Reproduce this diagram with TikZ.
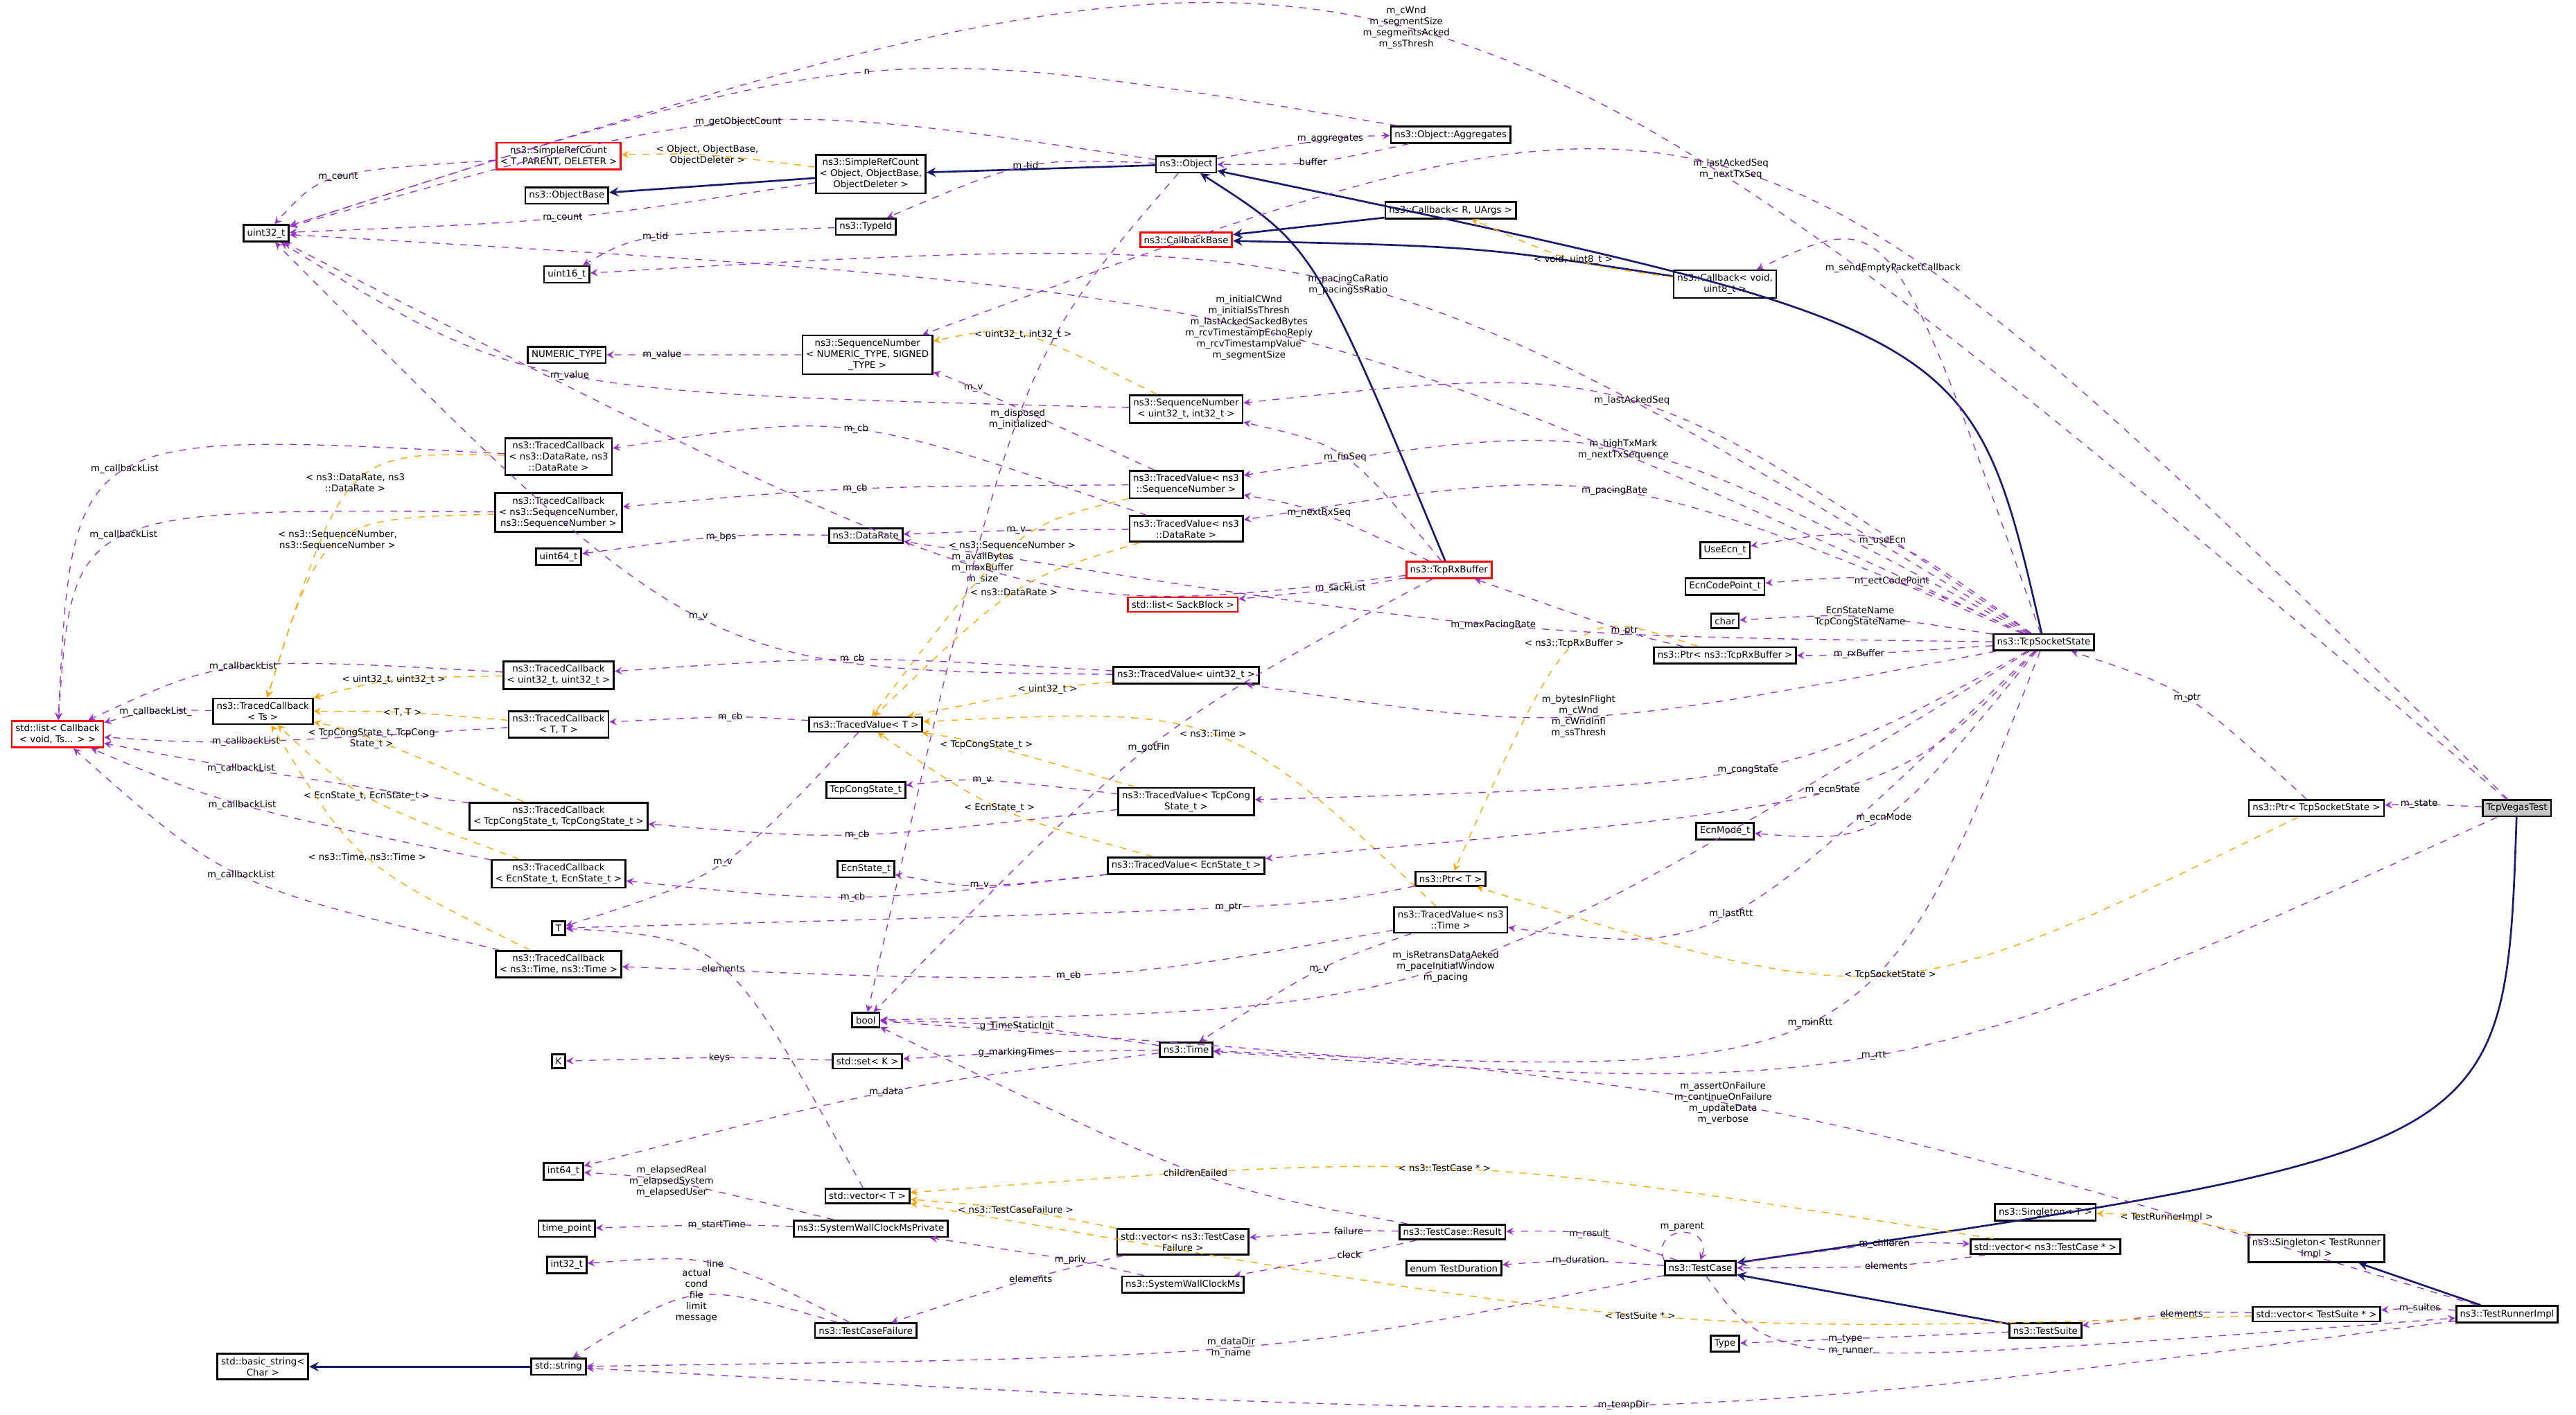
\documentclass[tikz,border=0pt]{standalone}
\usepackage{fontspec}
\setmainfont{DejaVu Sans}
\usetikzlibrary{arrows,calc}
\definecolor{mempurple}{RGB}{153,50,205}
\definecolor{tmplorange}{RGB}{255,165,0}
\definecolor{inhblue}{RGB}{25,25,112}
\newcommand{\lnk}[5][mem]{\draw[#1] (#2) .. controls ($1.33333*(#4)-0.166667*(#2)-0.166667*(#3)$) .. node[lbl]{#5} (#3);}
\begin{document}
\begin{tikzpicture}[x=0.025cm,y=-0.025cm,
  box/.style={draw,thick,fill=white,font=\fontsize{4}{4.8}\selectfont,inner sep=1.6pt,align=center},
  redbox/.style={box,draw=red},
  lbl/.style={font=\fontsize{4}{4.8}\selectfont,align=center,inner sep=0.5pt},
  mem/.style={draw=mempurple,dashed,-stealth,fill=none},
  tmpl/.style={draw=tmplorange,dashed,-stealth,fill=none},
  inh/.style={draw=inhblue,thick,-stealth}]
\useasboundingbox (0,0) rectangle (1568,861);

% classes
\node[box,fill=gray!45] (vegas) at (1532,492) {TcpVegasTest};
\node[box] (ptrtss) at (1410,492) {ns3::Ptr< TcpSocketState >};
\node[box] (tss) at (1244,391) {ns3::TcpSocketState};
\node[box] (runner) at (1526,800) {ns3::TestRunnerImpl};
\node[box] (singtr) at (1410,760) {ns3::Singleton< TestRunner\\Impl >};
\node[box] (singt) at (1245,738) {ns3::Singleton< T >};
\node[box] (vecsuite) at (1410,800) {std::vector< TestSuite * >};
\node[box] (suite) at (1245,810) {ns3::TestSuite};
\node[box] (tcase) at (1035,772) {ns3::TestCase};
\node[box] (vectc) at (1245,759) {std::vector< ns3::TestCase * >};
\node[box] (type) at (1050,818) {Type};
\node[box] (tdur) at (885,772) {enum TestDuration};
\node[box] (result) at (884,750) {ns3::TestCase::Result};
\node[box] (vecfail) at (720,756) {std::vector< ns3::TestCase\\Failure >};
\node[box] (swcms) at (720,782) {ns3::SystemWallClockMs};
\node[box] (swcpriv) at (530,748) {ns3::SystemWallClockMsPrivate};
\node[box] (vect) at (528,728) {std::vector< T >};
\node[box] (failure) at (527,810) {ns3::TestCaseFailure};
\node[box] (str) at (340,832) {std::string};
\node[box] (bstr) at (160,832) {std::basic\_string<\\Char >};
\node[box] (i32) at (345,770) {int32\_t};
\node[box] (tpoint) at (345,748) {time\_point};
\node[box] (i64) at (343,713) {int64\_t};
\node[box] (K) at (340,646) {K};
\node[box] (setk) at (528,646) {std::set< K >};
\node[box] (bool) at (527,621) {bool};
\node[box] (time) at (722,639) {ns3::Time};
\node[box] (tvtime) at (883,560) {ns3::TracedValue< ns3\\::Time >};
\node[box] (ptrt) at (883,535) {ns3::Ptr< T >};
\node[box] (ecnmode) at (1050,506) {EcnMode\_t};
\node[box] (ecnst) at (527,529) {EcnState\_t};
\node[box] (tvecn) at (722,527) {ns3::TracedValue< EcnState\_t >};
\node[box] (congst) at (527,481) {TcpCongState\_t};
\node[box] (tvcong) at (722,488) {ns3::TracedValue< TcpCong\\State\_t >};
\node[box] (tvt) at (527,441) {ns3::TracedValue< T >};
\node[box] (tvu32) at (722,411) {ns3::TracedValue< uint32\_t >};
\node[box] (T) at (340,565) {T};
\node[box] (tctime) at (340,587) {ns3::TracedCallback\\< ns3::Time, ns3::Time >};
\node[box] (tcecn) at (340,532) {ns3::TracedCallback\\< EcnState\_t, EcnState\_t >};
\node[box] (tccong) at (340,497) {ns3::TracedCallback\\< TcpCongState\_t, TcpCongState\_t >};
\node[box] (tctt) at (340,441) {ns3::TracedCallback\\< T, T >};
\node[box] (tcu32) at (340,411) {ns3::TracedCallback\\< uint32\_t, uint32\_t >};
\node[box] (tcts) at (160,433) {ns3::TracedCallback\\< Ts >};
\node[redbox] (cblist) at (35,447) {std::list< Callback\\< void, Ts... > >};
\node[box] (tcseq) at (340,312) {ns3::TracedCallback\\< ns3::SequenceNumber,\\ns3::SequenceNumber >};
\node[box] (tcrate) at (340,278) {ns3::TracedCallback\\< ns3::DataRate, ns3\\::DataRate >};
\node[box] (u64) at (340,339) {uint64\_t};
\node[box] (rate) at (527,326) {ns3::DataRate};
\node[box] (tvseq) at (722,295) {ns3::TracedValue< ns3\\::SequenceNumber >};
\node[box] (tvrate) at (722,322) {ns3::TracedValue< ns3\\::DataRate >};
\node[box] (seq32) at (722,249) {ns3::SequenceNumber\\< uint32\_t, int32\_t >};
\node[box] (seqnt) at (528,216) {ns3::SequenceNumber\\< NUMERIC\_TYPE, SIGNED\\\_TYPE >};
\node[box] (numt) at (345,216) {NUMERIC\_TYPE};
\node[box] (u16) at (345,167) {uint16\_t};
\node[box] (u32) at (162,142) {uint32\_t};
\node[box] (typeid) at (527,138) {ns3::TypeId};
\node[box] (objbase) at (345,119) {ns3::ObjectBase};
\node[redbox] (srct) at (340,95) {ns3::SimpleRefCount\\< T, PARENT, DELETER >};
\node[box] (srcobj) at (530,106) {ns3::SimpleRefCount\\< Object, ObjectBase,\\ObjectDeleter >};
\node[box] (object) at (722,100) {ns3::Object};
\node[box] (aggr) at (883,82) {ns3::Object::Aggregates};
\node[redbox] (cbbase) at (722,146) {ns3::CallbackBase};
\node[box] (cbr) at (883,128) {ns3::Callback< R, UArgs >};
\node[box] (cbvoid) at (1050,173) {ns3::Callback< void,\\uint8\_t >};
\node[redbox] (rxbuf) at (882,347) {ns3::TcpRxBuffer};
\node[redbox] (sack) at (720,368) {std::list< SackBlock >};
\node[box] (useecn) at (1050,335) {UseEcn\_t};
\node[box] (ecncp) at (1050,357) {EcnCodePoint\_t};
\node[box] (char) at (1050,378) {char};
\node[box] (ptrrx) at (1050,399) {ns3::Ptr< ns3::TcpRxBuffer >};

% inheritance
\draw[inh] (vegas) .. controls (1525,700) .. (tcase);
\draw[inh] (runner) -- (singtr);
\draw[inh] (suite) -- (tcase);
\draw[inh] (tss) .. controls (1200,200) .. (object);
\draw[inh] (rxbuf) .. controls (800,150) .. (object);
\draw[inh] (cbvoid) .. controls (900,150) .. (cbbase);
\draw[inh] (cbr) -- (cbbase);
\draw[inh] (object) -- (srcobj);
\draw[inh] (srcobj) -- (objbase);
\draw[inh] (str) -- (bstr);

% members of TcpVegasTest and the test classes
\lnk{vegas}{u32}{855,18}{m\_cWnd\\m\_segmentSize\\m\_segmentsAcked\\m\_ssThresh}
\lnk{vegas}{seqnt}{1050,105}{m\_lastAckedSeq\\m\_nextTxSeq}
\lnk{vegas}{time}{1140,642}{m\_rtt}
\lnk{vegas}{ptrtss}{1470,490}{m\_state}
\lnk{runner}{bool}{1050,672}{m\_assertOnFailure\\m\_continueOnFailure\\m\_updateData\\m\_verbose}
\lnk{runner}{vecsuite}{1472,797}{m\_suites}
\lnk{runner}{str}{990,855}{m\_tempDir}
\lnk{tcase}{runner}{1130,822}{m\_runner}
\lnk[tmpl]{singtr}{singt}{1320,742}{< TestRunnerImpl >}
\lnk{vecsuite}{suite}{1330,800}{elements}
\lnk[tmpl]{vecsuite}{vect}{1000,800}{< TestSuite * >}
\lnk{suite}{type}{1125,815}{m\_type}
\draw[mem] (tcase.north west) .. controls +(-8,-22) and +(8,-22) .. node[lbl,above]{m\_parent} (tcase.north);
\lnk{tcase}{vectc}{1150,758}{m\_children}
\lnk{vectc}{tcase}{1150,770}{elements}
\lnk[tmpl]{vectc}{vect}{880,712}{< ns3::TestCase * >}
\lnk{tcase}{result}{965,752}{m\_result}
\lnk{tcase}{tdur}{960,768}{m\_duration}
\lnk{tcase}{str}{750,820}{m\_dataDir\\m\_name}
\lnk{result}{vecfail}{820,750}{failure}
\lnk{result}{swcms}{820,764}{clock}
\lnk{result}{bool}{730,714}{childrenFailed}
\lnk{vecfail}{failure}{630,778}{elements}
\lnk[tmpl]{vecfail}{vect}{620,737}{< ns3::TestCaseFailure >}
\lnk{swcms}{swcpriv}{650,767}{m\_priv}
\lnk{swcpriv}{i64}{410,720}{m\_elapsedReal\\m\_elapsedSystem\\m\_elapsedUser}
\lnk{swcpriv}{tpoint}{440,746}{m\_startTime}
\lnk{failure}{i32}{435,770}{line}
\lnk{failure}{str}{425,790}{actual\\cond\\file\\limit\\message}
\lnk{vect}{T}{440,590}{elements}
\lnk{time}{i64}{540,665}{m\_data}
\lnk{time}{setk}{618,641}{g\_markingTimes}
\lnk{time}{bool}{620,625}{g\_TimeStaticInit}
\lnk{setk}{K}{440,644}{keys}

% members of TcpSocketState and friends
\lnk{tss}{time}{1100,622}{m\_minRtt}
\lnk{tss}{tvtime}{1050,555}{m\_lastRtt}
\lnk{tvtime}{time}{805,590}{m\_v}
\lnk{tvtime}{tctime}{650,593}{m\_cb}
\lnk[tmpl]{tvtime}{tvt}{735,448}{< ns3::Time >}
\lnk{tss}{bool}{880,588}{m\_isRetransDataAcked\\m\_paceInitialWindow\\m\_pacing}
\lnk{rxbuf}{bool}{700,455}{m\_gotFin}
\lnk[tmpl]{ptrtss}{ptrt}{1150,592}{< TcpSocketState >}
\lnk[tmpl]{ptrrx}{ptrt}{960,393}{< ns3::TcpRxBuffer >}
\lnk{ptrtss}{tss}{1330,425}{m\_ptr}
\lnk{ptrrx}{rxbuf}{990,384}{m\_ptr}
\lnk{ptrt}{T}{750,552}{m\_ptr}
\lnk{tss}{ecnmode}{1145,497}{m\_ecnMode}
\lnk{tss}{tvecn}{1110,481}{m\_ecnState}
\lnk{tss}{tvcong}{1060,468}{m\_congState}
\lnk{tss}{tvu32}{960,435}{m\_bytesInFlight\\m\_cWnd\\m\_cWndInfl\\m\_ssThresh}
\lnk{tss}{ptrrx}{1130,398}{m\_rxBuffer}
\lnk{tss}{char}{1135,376}{EcnStateName\\TcpCongStateName}
\lnk{tss}{ecncp}{1150,355}{m\_ectCodePoint}
\lnk{tss}{useecn}{1145,330}{m\_useEcn}
\lnk{tss}{tvrate}{980,300}{m\_pacingRate}
\lnk{tss}{tvseq}{985,275}{m\_highTxMark\\m\_nextTxSequence}
\lnk{tss}{seq32}{990,245}{m\_lastAckedSeq}
\lnk{tss}{u32}{760,200}{m\_initialCWnd\\m\_initialSsThresh\\m\_lastAckedSackedBytes\\m\_rcvTimestampEchoReply\\m\_rcvTimestampValue\\m\_segmentSize}
\lnk{tss}{u16}{820,174}{m\_pacingCaRatio\\m\_pacingSsRatio}
\lnk{tss}{rate}{910,380}{m\_maxPacingRate}
\lnk{tss}{cbvoid}{1150,165}{m\_sendEmptyPacketCallback}
\lnk{rxbuf}{seq32}{815,278}{m\_finSeq}
\lnk{rxbuf}{tvseq}{800,312}{m\_nextRxSeq}
\lnk{rxbuf}{sack}{815,358}{m\_sackList}
\lnk{rxbuf}{u32}{600,345}{m\_availBytes\\m\_maxBuffer\\m\_size}
\lnk[tmpl]{cbvoid}{cbr}{960,158}{< void, uint8\_t >}

% ns3::Object and below
\lnk{object}{typeid}{625,102}{m\_tid}
\lnk{object}{aggr}{812,85}{m\_aggregates}
\lnk{aggr}{object}{800,98}{buffer}
\lnk{object}{bool}{620,255}{m\_disposed\\m\_initialized}
\lnk{aggr}{u32}{530,45}{n}
\lnk{object}{u32}{450,75}{m\_getObjectCount}
\lnk[tmpl]{srcobj}{srct}{430,95}{< Object, ObjectBase,\\ObjectDeleter >}
\lnk{srcobj}{u32}{345,132}{m\_count}
\lnk{srct}{u32}{210,108}{m\_count}
\lnk{typeid}{u16}{400,145}{m\_tid}
\lnk{seqnt}{numt}{405,216}{m\_value}
\lnk{seq32}{u32}{350,228}{m\_value}
\lnk[tmpl]{seq32}{seqnt}{620,206}{< uint32\_t, int32\_t >}

% traced values
\lnk{tvseq}{seqnt}{590,236}{m\_v}
\lnk{tvseq}{tcseq}{520,298}{m\_cb}
\lnk[tmpl]{tvseq}{tvt}{620,332}{< ns3::SequenceNumber >}
\lnk{tvrate}{rate}{620,323}{m\_v}
\lnk{tvrate}{tcrate}{520,263}{m\_cb}
\lnk[tmpl]{tvrate}{tvt}{620,360}{< ns3::DataRate >}
\lnk{rate}{u64}{440,327}{m\_bps}
\lnk{tvu32}{tcu32}{520,402}{m\_cb}
\lnk{tvu32}{u32}{430,375}{m\_v}
\lnk[tmpl]{tvu32}{tvt}{640,420}{< uint32\_t >}
\lnk{tvt}{tctt}{445,437}{m\_cb}
\lnk{tvt}{T}{440,525}{m\_v}
\lnk{tvcong}{congst}{600,476}{m\_v}
\lnk{tvcong}{tccong}{520,507}{m\_cb}
\lnk[tmpl]{tvcong}{tvt}{600,454}{< TcpCongState\_t >}
\lnk{tvecn}{ecnst}{600,538}{m\_v}
\lnk{tvecn}{tcecn}{520,545}{m\_cb}
\lnk[tmpl]{tvecn}{tvt}{610,492}{< EcnState\_t >}

% traced callbacks
\lnk{tcrate}{cblist}{80,287}{m\_callbackList}
\lnk{tcseq}{cblist}{80,327}{m\_callbackList}
\lnk{tcu32}{cblist}{150,407}{m\_callbackList}
\lnk{tctt}{cblist}{150,451}{m\_callbackList}
\lnk{tccong}{cblist}{150,468}{m\_callbackList}
\lnk{tcecn}{cblist}{150,490}{m\_callbackList}
\lnk{tctime}{cblist}{150,533}{m\_callbackList}
\lnk{tcts}{cblist}{95,434}{m\_callbackList\_}
\lnk[tmpl]{tcrate}{tcts}{220,295}{< ns3::DataRate, ns3\\::DataRate >}
\lnk[tmpl]{tcseq}{tcts}{210,330}{< ns3::SequenceNumber,\\ns3::SequenceNumber >}
\lnk[tmpl]{tcu32}{tcts}{240,415}{< uint32\_t, uint32\_t >}
\lnk[tmpl]{tctt}{tcts}{245,434}{< T, T >}
\lnk[tmpl]{tccong}{tcts}{225,450}{< TcpCongState\_t, TcpCong\\State\_t >}
\lnk[tmpl]{tcecn}{tcts}{225,485}{< EcnState\_t, EcnState\_t >}
\lnk[tmpl]{tctime}{tcts}{225,522}{< ns3::Time, ns3::Time >}
\end{tikzpicture}
\end{document}
